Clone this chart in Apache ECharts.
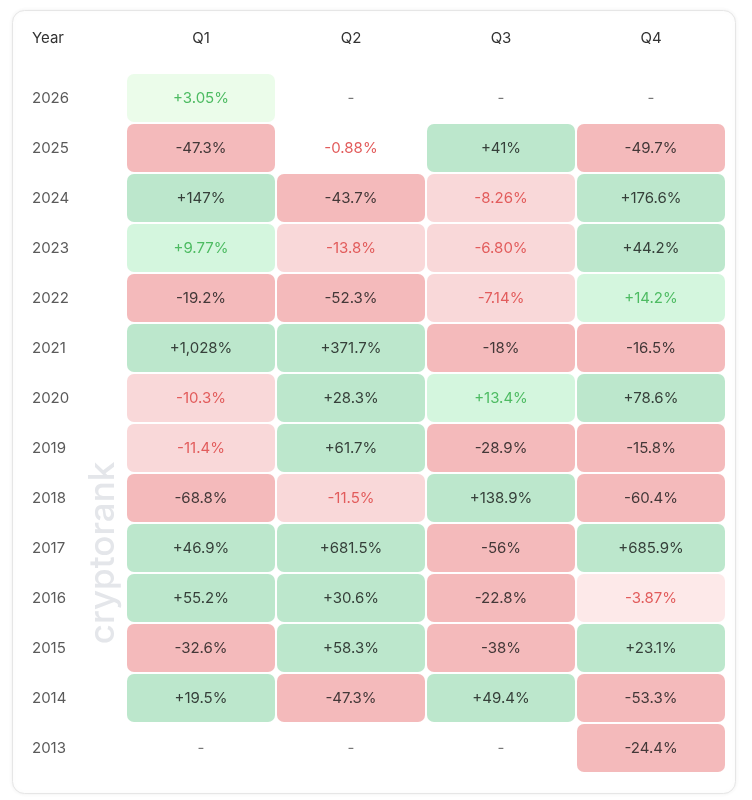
<!DOCTYPE html>
<html>
<head>
<meta charset="utf-8">
<script src="https://cdn.jsdelivr.net/npm/echarts@6/dist/echarts.min.js"></script>
<style>
html,body{margin:0;padding:0;background:#ffffff;}
#chart{width:752px;height:800px;}
</style>
</head>
<body>
<div id="chart"></div>
<script>
const years = ['2026','2025','2024','2023','2022','2021','2020','2019','2018','2017','2016','2015','2014','2013'];
const quarters = ['Q1','Q2','Q3','Q4'];
const q1 = [3.05, -47.3, 147, 9.77, -19.2, 1028, -10.3, -11.4, -68.8, 46.9, 55.2, -32.6, 19.5, null];
const q2 = [null, -0.88, -43.7, -13.8, -52.3, 371.7, 28.3, 61.7, -11.5, 681.5, 30.6, 58.3, -47.3, null];
const q3 = [null, 41, -8.26, -6.80, -7.14, -18, 13.4, -28.9, 138.9, -56, -22.8, -38, 49.4, null];
const q4 = [null, -49.7, 176.6, 44.2, 14.2, -16.5, 78.6, -15.8, -60.4, 685.9, -3.87, 23.1, -53.3, -24.4];

const cols = [q1, q2, q3, q4];
const cells = [];
cols.forEach((arr, qi) => {
  arr.forEach((v, yi) => { cells.push([qi, yi, v]); });
});

function fmt(v) {
  const a = Math.abs(v);
  let s;
  if (a >= 1000) s = Math.round(a).toLocaleString('en-US');
  else if (a < 10) s = a.toFixed(2);
  else { s = a.toFixed(1); if (s.endsWith('.0')) s = s.slice(0, -2); }
  return (v >= 0 ? '+' : '-') + s + '%';
}
function style(v) {
  const a = Math.abs(v);
  if (v >= 0) {
    if (a >= 15) return { bg: '#bce7cc', fg: '#36403a' };
    if (a >= 5) return { bg: '#d4f6de', fg: '#4dbb62' };
    if (a >= 1) return { bg: '#ebfcea', fg: '#4dbb62' };
    return { bg: null, fg: '#4dbb62' };
  } else {
    if (a >= 15) return { bg: '#f4babb', fg: '#433838' };
    if (a >= 5) return { bg: '#f9d8d9', fg: '#e25c5c' };
    if (a >= 1) return { bg: '#fde9e9', fg: '#e25c5c' };
    return { bg: null, fg: '#e25c5c' };
  }
}

const chart = echarts.init(document.getElementById('chart'));
chart.setOption({
  backgroundColor: '#ffffff',
  animation: false,
  graphic: [
    { type: 'rect', z: -10, shape: { x: 12.5, y: 10.5, width: 723, height: 783, r: 12 },
      style: { fill: '#ffffff', stroke: '#e6e6e6', lineWidth: 1, shadowBlur: 4, shadowColor: 'rgba(0,0,0,0.06)' } },
    { type: 'text', left: 32, top: 31, style: { text: 'Year', font: '15px Inter', fill: '#333333' } },
    { type: 'text', x: 103, y: 553, rotation: Math.PI / 2, z: 0,
      style: { text: 'cryptorank', font: '500 35px Inter', fill: '#e4e6ea', align: 'center', verticalAlign: 'middle' } }
  ],
  grid: { left: 126, right: 26, top: 73, height: 700 },
  xAxis: {
    type: 'category', data: quarters, position: 'top',
    axisLine: { show: false }, axisTick: { show: false }, splitLine: { show: false },
    axisLabel: { color: '#333333', fontSize: 15, fontFamily: 'Inter', margin: 27 }
  },
  yAxis: {
    type: 'category', data: years, inverse: true,
    axisLine: { show: false }, axisTick: { show: false }, splitLine: { show: false },
    axisLabel: { color: '#5a5a5a', fontSize: 15, fontFamily: 'Inter', align: 'left', margin: 94 }
  },
  series: [{
    type: 'custom',
    data: cells,
    encode: { x: 0, y: 1 },
    renderItem: function (params, api) {
      const v = cells[params.dataIndex][2];
      const c = api.coord([api.value(0), api.value(1)]);
      const sz = api.size([1, 1]);
      const w = sz[0] - 2, h = sz[1] - 2;
      const children = [];
      if (v !== null && v !== undefined) {
        const st = style(v);
        if (st.bg) {
          children.push({ type: 'rect', shape: { x: c[0] - w / 2, y: c[1] - h / 2, width: w, height: h, r: 7 },
            style: { fill: st.bg } });
        }
        children.push({ type: 'text', style: { x: c[0], y: c[1], text: fmt(v), align: 'center', verticalAlign: 'middle',
          font: '15px Inter', fill: st.fg } });
      } else {
        children.push({ type: 'text', style: { x: c[0], y: c[1], text: '-', align: 'center', verticalAlign: 'middle',
          font: '15px Inter', fill: '#777777' } });
      }
      return { type: 'group', children: children };
    }
  }]
});
</script>
</body>
</html>
